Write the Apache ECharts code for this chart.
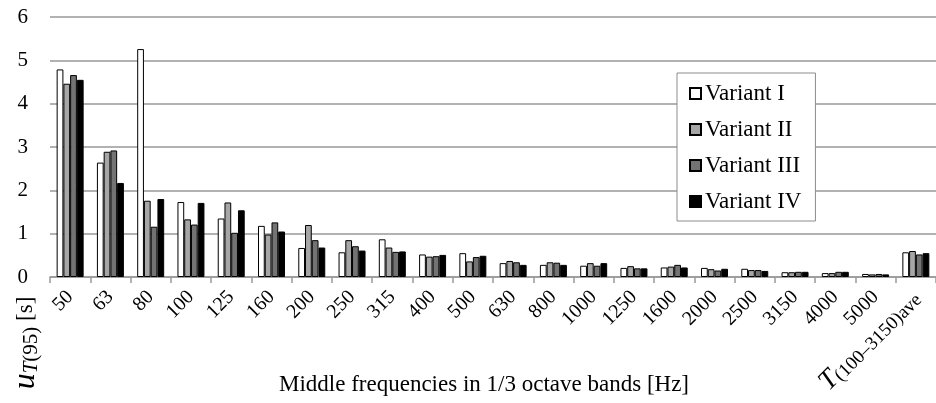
<!DOCTYPE html>
<html>
<head>
<meta charset="utf-8">
<script src="https://cdn.jsdelivr.net/npm/echarts@6/dist/echarts.min.js"></script>
<style>
html,body{margin:0;padding:0;background:#fff;}
#c{width:936px;height:403px;}
</style>
</head>
<body>
<div id="c"></div>
<script>
var categories = ['50','63','80','100','125','160','200','250','315','400','500','630','800','1000','1250','1600','2000','2500','3150','4000','5000','ave'];
var variantI   = [4.79,2.64,5.26,1.73,1.35,1.18,0.67,0.57,0.87,0.52,0.55,0.32,0.28,0.26,0.21,0.22,0.21,0.19,0.11,0.09,0.07,0.57];
var variantII  = [4.46,2.89,1.76,1.33,1.72,0.98,1.20,0.85,0.68,0.47,0.36,0.37,0.34,0.32,0.25,0.24,0.18,0.16,0.11,0.09,0.06,0.60];
var variantIII = [4.66,2.92,1.16,1.21,1.02,1.26,0.85,0.71,0.58,0.48,0.46,0.34,0.33,0.26,0.20,0.28,0.15,0.16,0.12,0.12,0.07,0.52];
var variantIV  = [4.55,2.17,1.80,1.71,1.54,1.05,0.68,0.61,0.59,0.51,0.49,0.28,0.28,0.32,0.20,0.22,0.19,0.14,0.12,0.12,0.06,0.55];
var seriesNames = ['Variant I','Variant II','Variant III','Variant IV'];
var seriesColors = ['#ffffff','#a6a6a6','#737373','#000000'];
var yTicks = [0,1,2,3,4,5,6];

var FONT = '"Liberation Serif","Times New Roman",serif';
var chart = echarts.init(document.getElementById('c'), null, {renderer:'canvas'});
var data = [variantI, variantII, variantIII, variantIV];
var series = data.map(function(d,i){
  return {
    name: seriesNames[i], type:'bar', data:d,
    barGap:'0%', barCategoryGap:'33%',
    itemStyle:{color:seriesColors[i], borderColor:'#000', borderWidth:1},
    emphasis:{disabled:true}, animation:false
  };
});
chart.setOption({
  animation:false,
  grid:{left:50, top:17, width:891, height:260, containLabel:false},
  legend:{
    orient:'vertical', left:677, top:73,
    backgroundColor:'#fff', borderColor:'#8c8c8c', borderWidth:1,
    padding:[9,14,8,12], itemGap:13, itemWidth:11, itemHeight:11,
    icon:'rect',
    textStyle:{fontFamily:FONT, fontSize:23, color:'#000', padding:[0,0,0,-1]},
    data:seriesNames
  },
  xAxis:{
    type:'category', data:categories,
    axisLine:{lineStyle:{color:'#999', width:1.5}},
    axisTick:{show:true, alignWithLabel:false, length:6, lineStyle:{color:'#999', width:1.5}},
    axisLabel:{
      rotate:45, interval:0, margin:17, fontFamily:FONT, fontSize:20, color:'#000',
      formatter:function(v){ return v==='ave' ? '{i|T}{s|(100–3150)ave}' : v; },
      rich:{
        i:{fontFamily:FONT, fontStyle:'italic', fontSize:28, color:'#000'},
        s:{fontFamily:FONT, fontSize:19, color:'#000', verticalAlign:'bottom', padding:[9,0,0,0]}
      }
    }
  },
  yAxis:{
    type:'value', min:0, max:6, interval:1,
    axisLine:{show:false}, axisTick:{show:false},
    splitLine:{lineStyle:{color:'#999', width:1.5}},
    axisLabel:{margin:22, fontFamily:FONT, fontSize:21, color:'#000',
      formatter:function(v){ return yTicks.indexOf(v)>=0 ? String(v) : ''; }}
  },
  graphic:[
    {type:'text', x:484, y:385, style:{
      text:'Middle frequencies in 1/3 octave bands [Hz]', fontFamily:FONT, fontSize:23, fill:'#000',
      textAlign:'center', textVerticalAlign:'middle'
    }},
    {type:'text', x:26, y:343, rotation:Math.PI/2, style:{
      text:'{u|u}{t|T}{n|(95)}{b| [s]}', textAlign:'center', textVerticalAlign:'middle',
      rich:{
        u:{fontFamily:FONT, fontStyle:'italic', fontSize:32, fill:'#000'},
        t:{fontFamily:FONT, fontStyle:'italic', fontSize:21, fill:'#000', verticalAlign:'bottom', padding:[10,0,0,0]},
        n:{fontFamily:FONT, fontSize:21, fill:'#000', verticalAlign:'bottom', padding:[10,0,0,0]},
        b:{fontFamily:FONT, fontSize:23, fill:'#000'}
      }
    }}
  ],
  series:series
});
</script>
</body>
</html>
